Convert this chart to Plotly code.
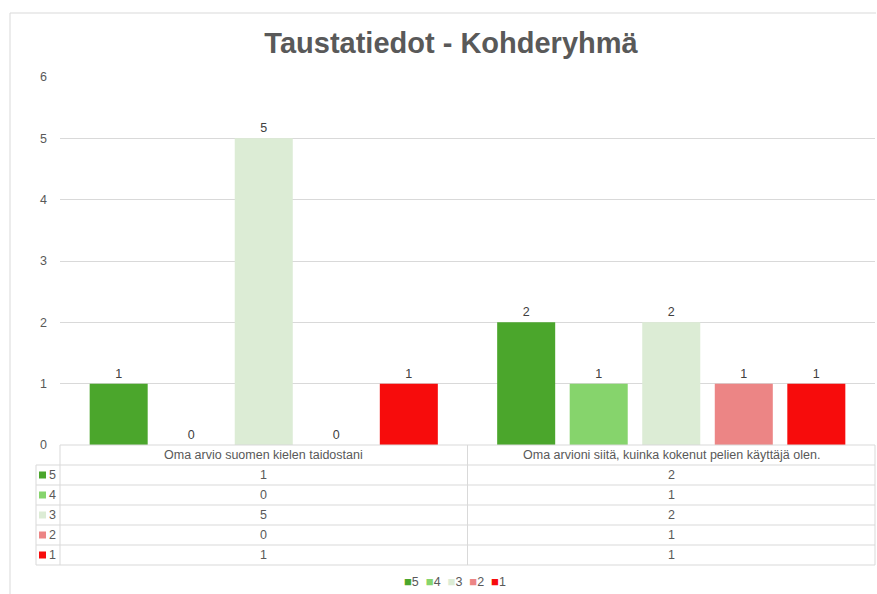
import plotly.graph_objects as go

# Data
categories = ["Oma arvio suomen kielen taidostani",
              "Oma arvioni siitä, kuinka kokenut pelien käyttäjä olen."]
series_names = ["5", "4", "3", "2", "1"]
values_5 = [1, 2]
values_4 = [0, 1]
values_3 = [5, 2]
values_2 = [0, 1]
values_1 = [1, 1]
series_values = [values_5, values_4, values_3, values_2, values_1]
colors = ["#4ba62c", "#86d46c", "#dcecd5", "#ec8585", "#f70c0c"]

W, H = 877, 594
L, R, T, B = 60, 875, 77, 445


def px(x):
    return (x - L) / (R - L)


def py(y):
    return (B - y) / (B - T)


fig = go.Figure()
for name, vals, col in zip(series_names, series_values, colors):
    fig.add_trace(go.Bar(
        x=categories, y=vals, name=name,
        marker=dict(color=col, line=dict(width=0)),
        text=[str(v) for v in vals], textposition='outside',
        textfont=dict(size=12.5, color='#404040'),
        cliponaxis=False, showlegend=False,
    ))

grid = '#d9d9d9'
shapes = []
annotations = []

# chart frame (left and top edges)
shapes.append(dict(type='line', xref='paper', yref='paper',
                   x0=px(10), x1=px(876), y0=py(13), y1=py(13),
                   line=dict(color=grid, width=1)))
shapes.append(dict(type='line', xref='paper', yref='paper',
                   x0=px(10), x1=px(10), y0=py(13), y1=py(594),
                   line=dict(color=grid, width=1)))

# data table below plot
row_h = 20
col_x = [L, (L + R) / 2, R]
key_x = 36
n_rows = len(series_names)
bottom = B + row_h * (n_rows + 1)
for i in range(n_rows + 2):
    y = B + i * row_h
    x_start = L if i == 0 else key_x
    shapes.append(dict(type='line', xref='paper', yref='paper',
                       x0=px(x_start), x1=px(R), y0=py(y), y1=py(y),
                       line=dict(color=grid, width=1)))
for x in col_x:
    shapes.append(dict(type='line', xref='paper', yref='paper',
                       x0=px(x), x1=px(x), y0=py(B), y1=py(bottom),
                       line=dict(color=grid, width=1)))
shapes.append(dict(type='line', xref='paper', yref='paper',
                   x0=px(key_x), x1=px(key_x), y0=py(B + row_h), y1=py(bottom),
                   line=dict(color=grid, width=1)))

tfont = dict(family='Liberation Sans, Arial, sans-serif', size=12.5, color='#595959')
for j, cat in enumerate(categories):
    cx = (col_x[j] + col_x[j + 1]) / 2
    annotations.append(dict(xref='paper', yref='paper', x=px(cx), y=py(B + row_h / 2),
                            text=cat, showarrow=False, font=tfont,
                            xanchor='center', yanchor='middle'))
    for i, vals in enumerate(series_values):
        annotations.append(dict(xref='paper', yref='paper', x=px(cx),
                                y=py(B + row_h * (i + 1.5)),
                                text=str(vals[j]), showarrow=False, font=tfont,
                                xanchor='center', yanchor='middle'))

for i, (name, col) in enumerate(zip(series_names, colors)):
    yc = B + row_h * (i + 1.5)
    shapes.append(dict(type='rect', xref='paper', yref='paper',
                       x0=px(39), x1=px(46), y0=py(yc - 3.5), y1=py(yc + 3.5),
                       fillcolor=col, line=dict(width=0)))
    annotations.append(dict(xref='paper', yref='paper', x=px(47), y=py(yc),
                            text=name, showarrow=False, font=tfont,
                            xanchor='left', yanchor='middle'))

# compact legend at bottom
legend_text = '&nbsp;&nbsp;'.join(
    f"<span style='color:{c}; font-size:13px'>■</span>{n}"
    for n, c in zip(series_names, colors))
annotations.append(dict(xref='paper', yref='paper', x=px(455), y=py(581),
                        text=legend_text, showarrow=False,
                        font=dict(family='Liberation Sans, Arial, sans-serif',
                                  size=12.5, color='#595959'),
                        xanchor='center', yanchor='middle'))

fig.update_layout(
    width=W, height=H,
    margin=dict(l=L, r=W - R, t=T, b=H - B),
    paper_bgcolor='white', plot_bgcolor='white',
    title=dict(text='<b>Taustatiedot - Kohderyhmä</b>', x=px(451), xref='paper',
               xanchor='center', y=1 - 43 / H, yanchor='middle',
               font=dict(family='Liberation Sans, Arial, sans-serif', size=29,
                         color='#595959')),
    font=dict(family='Liberation Sans, Arial, sans-serif', color='#595959'),
    barmode='group', bargap=0.11, bargroupgap=0.2,
    xaxis=dict(showticklabels=False, showgrid=False, zeroline=False,
               showline=False, range=[-0.5, 1.5]),
    yaxis=dict(range=[0, 6], dtick=1, showgrid=True, gridcolor=grid,
               zeroline=False, showline=False, ticks='',
               tickfont=dict(size=12.5, color='#595959'), ticklabelstandoff=12),
    showlegend=False,
    shapes=shapes, annotations=annotations,
)

fig.write_html("out.html", config={'displayModeBar': False},
               post_script="document.body.style.margin='0';")
